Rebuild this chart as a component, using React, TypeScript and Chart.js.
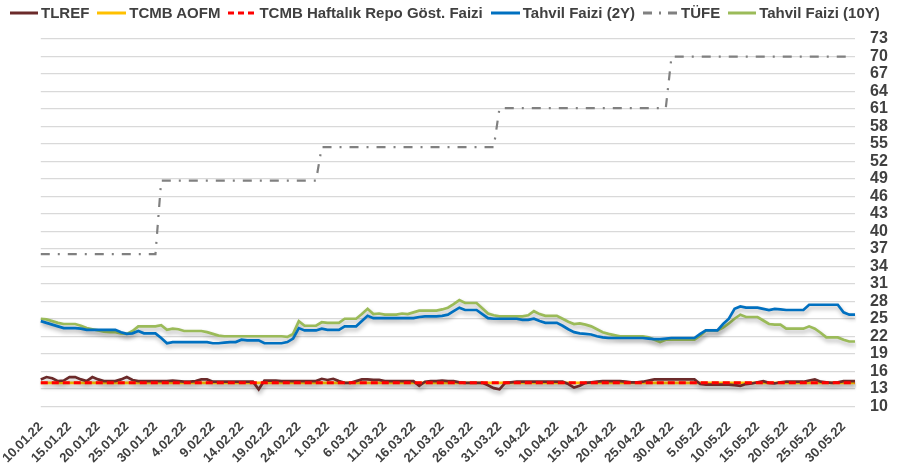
import React, { useEffect, useRef } from "react";
import { Chart, registerables } from "chart.js";

Chart.register(...registerables);

// Tick labels shown every 5 days (10.01.22 ... 30.05.22)
const tickLabels = [
  "10.01.22", "15.01.22", "20.01.22", "25.01.22", "30.01.22", "4.02.22", "9.02.22", "14.02.22",
  "19.02.22", "24.02.22", "1.03.22", "6.03.22", "11.03.22", "16.03.22", "21.03.22", "26.03.22",
  "31.03.22", "5.04.22", "10.04.22", "15.04.22", "20.04.22", "25.04.22", "30.04.22", "5.05.22",
  "10.05.22", "15.05.22", "20.05.22", "25.05.22", "30.05.22",
];

// Daily categories, 10.01.22 .. 1.06.22 (143 days)
const categories: string[] = [];
{
  const start = new Date(2022, 0, 10);
  for (let i = 0; i < 143; i++) {
    const d = new Date(start.getFullYear(), start.getMonth(), start.getDate() + i);
    categories.push(`${d.getDate()}.${String(d.getMonth() + 1).padStart(2, "0")}.22`);
  }
}

const tlref = [
  14.6, 15.0, 14.8, 14.3, 14.4, 15.0, 15.0, 14.6, 14.3, 15.0,
  14.6, 14.3, 14.3, 14.3, 14.6, 15.0, 14.5, 14.3, 14.3, 14.3,
  14.3, 14.3, 14.3, 14.4, 14.3, 14.2, 14.2, 14.3, 14.6, 14.6,
  14.2, 14.2, 14.2, 14.2, 14.2, 14.2, 14.2, 14.2, 12.9, 14.4,
  14.4, 14.4, 14.3, 14.3, 14.3, 14.3, 14.3, 14.3, 14.3, 14.7,
  14.5, 14.7, 14.3, 14.0, 14.0, 14.3, 14.6, 14.6, 14.5, 14.5,
  14.3, 14.3, 14.3, 14.3, 14.3, 14.3, 13.5, 14.2, 14.3, 14.3,
  14.4, 14.3, 14.3, 14.1, 14.0, 14.0, 14.0, 14.0, 13.6, 13.1,
  12.9, 14.0, 14.1, 14.2, 14.2, 14.2, 14.2, 14.2, 14.2, 14.2,
  14.2, 14.2, 13.8, 13.2, 13.5, 14.0, 14.1, 14.2, 14.3, 14.3,
  14.3, 14.3, 14.2, 14.1, 14.1, 14.2, 14.4, 14.6, 14.6, 14.6,
  14.6, 14.6, 14.6, 14.6, 14.6, 13.8, 13.7, 13.7, 13.7, 13.7,
  13.7, 13.6, 13.5, 13.8, 13.9, 14.1, 14.3, 14.0, 13.9, 14.1,
  14.2, 14.2, 14.2, 14.2, 14.4, 14.6, 14.2, 14.1, 14.0, 14.1,
  14.3, 14.3, 14.3,
];

const aofm = [
  14, 14, 14, 14, 14, 14, 14, 14, 14, 14,
  14, 14, 14, 14, 14, 14, 14, 14, 14, 14,
  14, 14, 14, 14, 14, 14, 14, 14, 14, 14,
  14, 14, 14, 14, 14, 14, 14, 14, 14, 14,
  14, 14, 14, 14, 14, 14, 14, 14, 14, 14,
  14, 14, 14, 14, 14, 14, 14, 14, 14, 14,
  14, 14, 14, 14, 14, 14, 14, 14, 14, 14,
  14, 14, 14, 14, 14, 14, 14, 14, 14, 14,
  14, 14, 14, 14, 14, 14, 14, 14, 14, 14,
  14, 14, 14, 14, 14, 14, 14, 14, 14, 14,
  14, 14, 14, 14, 14, 14, 14, 14, 14, 14,
  14, 14, 14, 14, 14, 14, 14, 14, 14, 14,
  14, 14, 14, 14, 14, 14, 14, 14, 14, 14,
  14, 14, 14, 14, 14, 14, 14, 14, 14, 14,
  14, 14, 14,
];

const repo = [
  14, 14, 14, 14, 14, 14, 14, 14, 14, 14,
  14, 14, 14, 14, 14, 14, 14, 14, 14, 14,
  14, 14, 14, 14, 14, 14, 14, 14, 14, 14,
  14, 14, 14, 14, 14, 14, 14, 14, 14, 14,
  14, 14, 14, 14, 14, 14, 14, 14, 14, 14,
  14, 14, 14, 14, 14, 14, 14, 14, 14, 14,
  14, 14, 14, 14, 14, 14, 14, 14, 14, 14,
  14, 14, 14, 14, 14, 14, 14, 14, 14, 14,
  14, 14, 14, 14, 14, 14, 14, 14, 14, 14,
  14, 14, 14, 14, 14, 14, 14, 14, 14, 14,
  14, 14, 14, 14, 14, 14, 14, 14, 14, 14,
  14, 14, 14, 14, 14, 14, 14, 14, 14, 14,
  14, 14, 14, 14, 14, 14, 14, 14, 14, 14,
  14, 14, 14, 14, 14, 14, 14, 14, 14, 14,
  14, 14, 14,
];

const tahvil2y = [
  24.6, 24.3, 24.0, 23.7, 23.4, 23.4, 23.4, 23.3, 23.1, 23.1,
  23.1, 23.1, 23.1, 23.1, 22.7, 22.4, 22.5, 22.9, 22.5, 22.5,
  22.5, 21.7, 20.8, 21.0, 21.0, 21.0, 21.0, 21.0, 21.0, 21.0,
  20.8, 20.8, 20.9, 21.0, 21.0, 21.4, 21.3, 21.3, 21.3, 20.8,
  20.8, 20.8, 20.8, 21.0, 21.6, 23.4, 23.0, 23.0, 23.0, 23.3,
  23.1, 23.1, 23.1, 23.7, 23.7, 23.7, 24.6, 25.5, 25.1, 25.1,
  25.1, 25.1, 25.1, 25.1, 25.1, 25.1, 25.3, 25.4, 25.4, 25.4,
  25.5, 25.7, 26.3, 26.9, 26.5, 26.5, 26.5, 25.8, 25.1, 25.0,
  25.0, 25.0, 25.0, 25.0, 24.8, 24.8, 25.0, 24.6, 24.3, 24.3,
  24.3, 23.8, 23.2, 22.7, 22.5, 22.4, 22.3, 22.0, 21.8, 21.7,
  21.7, 21.7, 21.7, 21.7, 21.7, 21.7, 21.6, 21.5, 21.5, 21.6,
  21.7, 21.7, 21.7, 21.7, 21.7, 22.4, 23.0, 23.0, 23.0, 24.1,
  25.0, 26.7, 27.1, 26.9, 26.9, 26.9, 26.7, 26.5, 26.7, 26.6,
  26.5, 26.5, 26.5, 26.5, 27.4, 27.4, 27.4, 27.4, 27.4, 27.4,
  26.1, 25.7, 25.7,
];

const tufe = [
  36.08, 36.08, 36.08, 36.08, 36.08, 36.08, 36.08, 36.08, 36.08, 36.08,
  36.08, 36.08, 36.08, 36.08, 36.08, 36.08, 36.08, 36.08, 36.08, 36.08,
  36.08, 48.69, 48.69, 48.69, 48.69, 48.69, 48.69, 48.69, 48.69, 48.69,
  48.69, 48.69, 48.69, 48.69, 48.69, 48.69, 48.69, 48.69, 48.69, 48.69,
  48.69, 48.69, 48.69, 48.69, 48.69, 48.69, 48.69, 48.69, 48.69, 54.44,
  54.44, 54.44, 54.44, 54.44, 54.44, 54.44, 54.44, 54.44, 54.44, 54.44,
  54.44, 54.44, 54.44, 54.44, 54.44, 54.44, 54.44, 54.44, 54.44, 54.44,
  54.44, 54.44, 54.44, 54.44, 54.44, 54.44, 54.44, 54.44, 54.44, 54.44,
  61.14, 61.14, 61.14, 61.14, 61.14, 61.14, 61.14, 61.14, 61.14, 61.14,
  61.14, 61.14, 61.14, 61.14, 61.14, 61.14, 61.14, 61.14, 61.14, 61.14,
  61.14, 61.14, 61.14, 61.14, 61.14, 61.14, 61.14, 61.14, 61.14, 61.14,
  69.97, 69.97, 69.97, 69.97, 69.97, 69.97, 69.97, 69.97, 69.97, 69.97,
  69.97, 69.97, 69.97, 69.97, 69.97, 69.97, 69.97, 69.97, 69.97, 69.97,
  69.97, 69.97, 69.97, 69.97, 69.97, 69.97, 69.97, 69.97, 69.97, 69.97,
  69.97, 69.97, null,
];

const tahvil10y = [
  25.0, 24.9, 24.6, 24.3, 24.1, 24.1, 24.1, 23.8, 23.4, 23.2,
  23.0, 22.8, 22.7, 22.7, 22.5, 22.4, 22.9, 23.7, 23.7, 23.7,
  23.7, 23.9, 23.1, 23.3, 23.2, 22.9, 22.9, 22.9, 22.9, 22.7,
  22.4, 22.1, 22.0, 22.0, 22.0, 22.0, 22.0, 22.0, 22.0, 22.0,
  22.0, 22.0, 22.0, 21.9, 22.4, 24.6, 23.8, 23.8, 23.8, 24.4,
  24.3, 24.3, 24.3, 25.0, 25.0, 25.0, 25.8, 26.7, 25.8, 25.9,
  25.7, 25.7, 25.7, 25.9, 25.8, 26.1, 26.4, 26.4, 26.4, 26.4,
  26.6, 26.9, 27.5, 28.2, 27.7, 27.7, 27.7, 26.8, 25.9, 25.6,
  25.4, 25.4, 25.4, 25.4, 25.4, 25.6, 26.3, 25.8, 25.5, 25.5,
  25.5, 25.0, 24.5, 24.1, 24.2, 24.0, 23.7, 23.2, 22.7, 22.4,
  22.2, 22.0, 22.0, 22.0, 22.0, 22.0, 21.8, 21.4, 21.0, 21.4,
  21.4, 21.4, 21.4, 21.4, 21.4, 22.1, 23.0, 23.0, 23.0, 23.5,
  24.2, 25.0, 25.7, 25.3, 25.3, 25.3, 24.7, 24.1, 24.0, 24.0,
  23.3, 23.3, 23.3, 23.3, 23.7, 23.3, 22.6, 21.8, 21.8, 21.8,
  21.4, 21.1, 21.1,
];

const FONT = "'Liberation Sans', Arial, sans-serif";
const TEXT = "#404040";

const COLORS = {
  tlref: "#6B2A2A",
  aofm: "#FFC000",
  repo: "#FF0000",
  y2: "#0070C0",
  tufe: "#808080",
  y10: "#9BBB59",
};

const legendItems = [
  { label: "TLREF", color: COLORS.tlref, dash: "", w: 28 },
  { label: "TCMB AOFM", color: COLORS.aofm, dash: "", w: 29 },
  { label: "TCMB Haftalık Repo Göst. Faizi", color: COLORS.repo, dash: "6 4", w: 28 },
  { label: "Tahvil Faizi (2Y)", color: COLORS.y2, dash: "", w: 29 },
  { label: "TÜFE", color: COLORS.tufe, dash: "9 7 2 7", w: 35 },
  { label: "Tahvil Faizi (10Y)", color: COLORS.y10, dash: "", w: 28 },
];

const shadowPlugin = {
  id: "lineShadow",
  beforeDatasetDraw(chart: any, args: any) {
    const ds = chart.data.datasets[args.index];
    const ctx = chart.ctx;
    ctx.save();
    if (ds.shadow) {
      ctx.shadowColor = "rgba(0,0,0,0.3)";
      ctx.shadowBlur = 4;
      ctx.shadowOffsetX = 1;
      ctx.shadowOffsetY = 3;
    }
  },
  afterDatasetDraw(chart: any) {
    chart.ctx.restore();
  },
};

function Legend() {
  return (
    <div
      style={{
        position: "absolute",
        left: 10,
        top: 5,
        display: "flex",
        alignItems: "center",
        whiteSpace: "nowrap",
        fontFamily: FONT,
        fontWeight: "bold",
        fontSize: 15,
        lineHeight: "16px",
        color: TEXT,
      }}
    >
      {legendItems.map((it, i) => (
        <div key={i} style={{ display: "flex", alignItems: "center", marginRight: 8 }}>
          <svg width={it.w} height={10} style={{ marginRight: 3, display: "block" }}>
            <line
              x1={0}
              y1={5}
              x2={it.w}
              y2={5}
              stroke={it.color}
              strokeWidth={3}
              strokeDasharray={it.dash || undefined}
            />
          </svg>
          <span>{it.label}</span>
        </div>
      ))}
    </div>
  );
}

export default function App() {
  const canvasRef = useRef<HTMLCanvasElement | null>(null);

  useEffect(() => {
    if (!canvasRef.current) return;
    const common = { pointRadius: 0, pointHoverRadius: 0, tension: 0, fill: false, borderWidth: 2.7 };
    const chart = new Chart(canvasRef.current, {
      type: "line",
      data: {
        labels: categories,
        datasets: [
          { ...common, label: "TLREF", data: tlref, borderColor: COLORS.tlref, order: 1, shadow: true } as any,
          { ...common, label: "TCMB AOFM", data: aofm, borderColor: COLORS.aofm, order: 2, shadow: true } as any,
          { ...common, label: "TCMB Haftalık Repo Göst. Faizi", data: repo, borderColor: COLORS.repo, borderWidth: 3, borderDash: [7, 4], order: 0 } as any,
          { ...common, label: "Tahvil Faizi (2Y)", data: tahvil2y, borderColor: COLORS.y2, order: 3, shadow: true } as any,
          { ...common, label: "TÜFE", data: tufe, borderColor: COLORS.tufe, borderWidth: 2.2, borderDash: [9, 8, 2, 8], order: 4 } as any,
          { ...common, label: "Tahvil Faizi (10Y)", data: tahvil10y, borderColor: COLORS.y10, order: 3, shadow: true } as any,
        ],
      },
      options: {
        animation: false,
        responsive: true,
        maintainAspectRatio: false,
        layout: { padding: { left: 2, right: 9, top: 39, bottom: 0 } },
        plugins: {
          tooltip: { enabled: false },
          legend: { display: false },
        },
        scales: {
          x: {
            grid: { display: false },
            border: { display: false },
            ticks: {
              autoSkip: false,
              minRotation: 45,
              maxRotation: 45,
              padding: 5,
              color: TEXT,
              font: { family: FONT, size: 13, weight: "bold" },
              callback: (_v: any, i: number) => (i % 5 === 0 ? tickLabels[i / 5] ?? "" : ""),
            },
          },
          y: {
            position: "right",
            min: 10,
            max: 73,
            grid: { color: "#D9D9D9", lineWidth: 1.3, drawTicks: false },
            border: { display: false },
            afterFit: (scale: any) => {
              scale.width = 33;
            },
            ticks: {
              autoSkip: false,
              stepSize: 3,
              padding: 15,
              color: TEXT,
              font: { family: FONT, size: 16, weight: "bold" },
            },
          },
        },
      },
      plugins: [shadowPlugin],
    } as any);
    return () => chart.destroy();
  }, []);

  return (
    <div style={{ position: "absolute", left: 0, top: 0, width: 897, height: 471, background: "#fff" }}>
      <canvas ref={canvasRef} />
      <Legend />
    </div>
  );
}
